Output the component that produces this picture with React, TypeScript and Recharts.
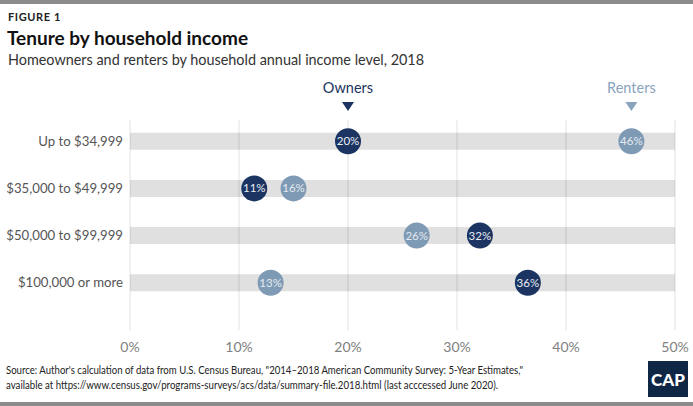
import { ScatterChart, Scatter, XAxis, YAxis, ReferenceArea, ReferenceLine, ReferenceDot } from 'recharts';

const categories = ['Up to $34,999', '$35,000 to $49,999', '$50,000 to $99,999', '$100,000 or more'];
const ownersValues = [20.0, 11.4, 32.1, 36.5];
const ownersLabels = ['20%', '11%', '32%', '36%'];
const rentersValues = [46.0, 15.0, 26.3, 12.9];
const rentersLabels = ['46%', '16%', '26%', '13%'];
const xTicks = [0, 10, 20, 30, 40, 50];

const OWNER = '#1b3461';
const RENTER = '#7f9ab4';
const FONT = 'Lato, "Open Sans", sans-serif';

const owners = ownersValues.map((v, i) => ({ x: v, y: i, label: ownersLabels[i] }));
const renters = rentersValues.map((v, i) => ({ x: v, y: i, label: rentersLabels[i] }));

function dotShape(fill: string, textColor: string) {
  return (props: any) => {
    const { cx, cy, payload } = props;
    return (
      <g>
        <circle cx={cx} cy={cy} r={13} fill={fill} />
        <text x={cx} y={cy + 4} textAnchor="middle" fontSize={11.5} fill={textColor} fontFamily={FONT}>
          {payload.label}
        </text>
      </g>
    );
  };
}

function legendMark(name: string, color: string) {
  return (props: any) => {
    const { cx, cy } = props;
    return (
      <g>
        <text x={cx} y={cy - 27} textAnchor="middle" fontSize={14.5} fill={color} fontFamily={FONT}>
          {name}
        </text>
        <path d={`M${cx - 6},${cy - 18} L${cx + 6},${cy - 18} L${cx},${cy - 9} Z`} fill={color} />
      </g>
    );
  };
}

export default function App() {
  return (
    <div style={{ position: 'absolute', left: 0, top: 0, width: 693, height: 406, background: '#fff', fontFamily: FONT }}>
      <ScatterChart width={693} height={406} margin={{ top: 120, right: 18, bottom: 46, left: 0 }}>
        <XAxis
          type="number"
          dataKey="x"
          domain={[0, 50]}
          ticks={xTicks}
          tickFormatter={(v) => `${v}%`}
          axisLine={false}
          tickLine={false}
          height={30}
          tickMargin={6}
          tick={{ fontSize: 14, fill: '#808080', fontFamily: FONT }}
        />
        <YAxis
          type="number"
          dataKey="y"
          domain={[-0.45, 4]}
          reversed
          ticks={[0, 1, 2, 3]}
          tickFormatter={(i) => categories[i] ?? ''}
          axisLine={false}
          tickLine={false}
          tickSize={0}
          tickMargin={7}
          width={130}
          tick={{ fontSize: 13.2, fill: '#555', fontFamily: FONT }}
        />
        {categories.map((c, i) => (
          <ReferenceArea key={c} x1={0} x2={50} y1={i - 0.18} y2={i + 0.18} fill="#e0e0e0" fillOpacity={1} stroke="none" />
        ))}
        {xTicks.map((t) => (
          <ReferenceLine key={t} x={t} stroke="rgba(0,0,0,0.08)" strokeWidth={1.5} />
        ))}
        <ReferenceDot x={ownersValues[0]} y={-0.45} r={0} ifOverflow="visible" shape={legendMark('Owners', OWNER)} />
        <ReferenceDot x={rentersValues[0]} y={-0.45} r={0} ifOverflow="visible" shape={legendMark('Renters', '#8aa3bc')} />
        <Scatter data={renters} isAnimationActive={false} shape={dotShape(RENTER, '#e4eaf1')} />
        <Scatter data={owners} isAnimationActive={false} shape={dotShape(OWNER, '#e8edf4')} />
      </ScatterChart>
      <svg width={693} height={406} style={{ position: 'absolute', left: 0, top: 0, pointerEvents: 'none' }}>
        <rect x={0} y={0} width={693} height={4} fill="#8c8c8c" />
        <rect x={0} y={402} width={693} height={4} fill="#8c8c8c" />
        <text x={8} y={21} fontSize={11} fontWeight={700} letterSpacing={0.6} fill="#222" fontFamily={FONT}>FIGURE 1</text>
        <text x={7} y={45} fontSize={19} fontWeight={700} fill="#111" fontFamily={FONT}>Tenure by household income</text>
        <text x={8} y={65} fontSize={14.4} fill="#333" fontFamily={FONT}>Homeowners and renters by household annual income level, 2018</text>
        <text x={6} y={374} fontSize={10.6} textLength={517} lengthAdjust="spacingAndGlyphs" fill="#222" fontFamily={FONT}>
          Source: Author's calculation of data from U.S. Census Bureau, "2014–2018 American Community Survey: 5-Year Estimates,"
        </text>
        <text x={6} y={389} fontSize={10.6} textLength={492} lengthAdjust="spacingAndGlyphs" fill="#222" fontFamily={FONT}>
          available at https://www.census.gov/programs-surveys/acs/data/summary-file.2018.html (last acccessed June 2020).
        </text>
        <rect x={648} y={361} width={40} height={36} fill="#0f2745" />
        <text x={668} y={386} textAnchor="middle" fontSize={17} fontWeight={900} fill="#fff" fontFamily={FONT}>CAP</text>
      </svg>
    </div>
  );
}
